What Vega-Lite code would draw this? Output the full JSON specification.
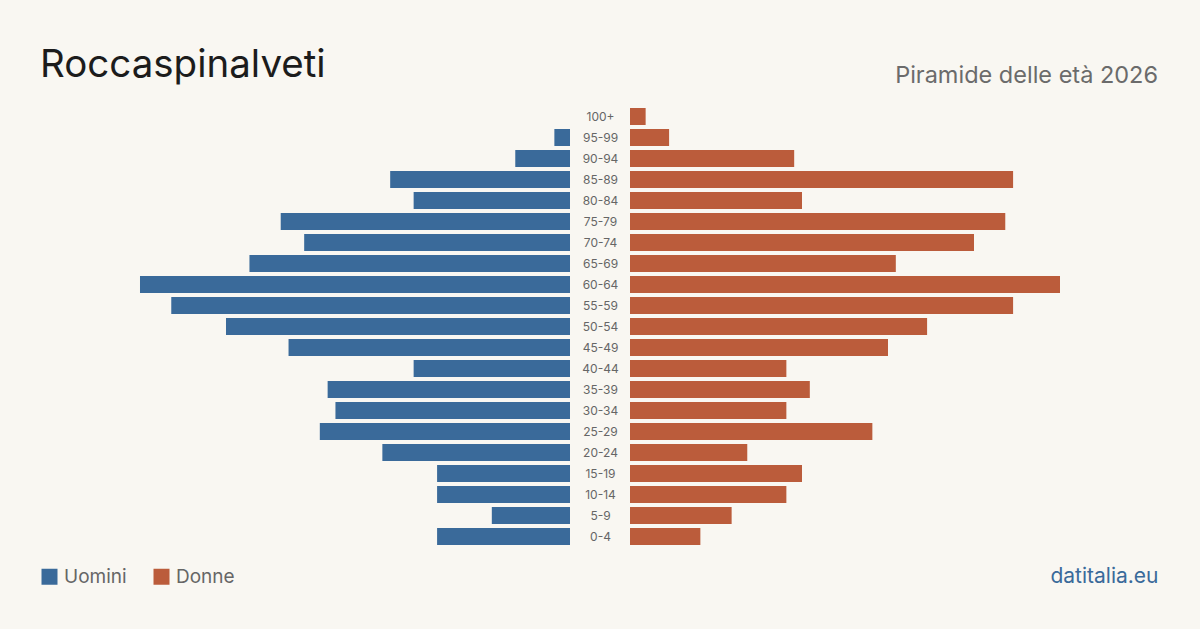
{
  "$schema": "https://vega.github.io/schema/vega-lite/v6.json",
  "autosize": {"type": "pad"},
  "padding": {"left": 40, "top": 45, "right": 42, "bottom": 42},
  "background": "#f9f7f2",
  "config": {
    "view": {"stroke": null},
    "font": "Inter"
  },
  "spacing": 60,
  "bounds": "flush",
  "data": {
    "values": [
      {"eta": "100+", "sesso": "Uomini", "n": 0},
      {"eta": "95-99", "sesso": "Uomini", "n": 2},
      {"eta": "90-94", "sesso": "Uomini", "n": 7},
      {"eta": "85-89", "sesso": "Uomini", "n": 23},
      {"eta": "80-84", "sesso": "Uomini", "n": 20},
      {"eta": "75-79", "sesso": "Uomini", "n": 37},
      {"eta": "70-74", "sesso": "Uomini", "n": 34},
      {"eta": "65-69", "sesso": "Uomini", "n": 41},
      {"eta": "60-64", "sesso": "Uomini", "n": 55},
      {"eta": "55-59", "sesso": "Uomini", "n": 51},
      {"eta": "50-54", "sesso": "Uomini", "n": 44},
      {"eta": "45-49", "sesso": "Uomini", "n": 36},
      {"eta": "40-44", "sesso": "Uomini", "n": 20},
      {"eta": "35-39", "sesso": "Uomini", "n": 31},
      {"eta": "30-34", "sesso": "Uomini", "n": 30},
      {"eta": "25-29", "sesso": "Uomini", "n": 32},
      {"eta": "20-24", "sesso": "Uomini", "n": 24},
      {"eta": "15-19", "sesso": "Uomini", "n": 17},
      {"eta": "10-14", "sesso": "Uomini", "n": 17},
      {"eta": "5-9", "sesso": "Uomini", "n": 10},
      {"eta": "0-4", "sesso": "Uomini", "n": 17},
      {"eta": "100+", "sesso": "Donne", "n": 2},
      {"eta": "95-99", "sesso": "Donne", "n": 5},
      {"eta": "90-94", "sesso": "Donne", "n": 21},
      {"eta": "85-89", "sesso": "Donne", "n": 49},
      {"eta": "80-84", "sesso": "Donne", "n": 22},
      {"eta": "75-79", "sesso": "Donne", "n": 48},
      {"eta": "70-74", "sesso": "Donne", "n": 44},
      {"eta": "65-69", "sesso": "Donne", "n": 34},
      {"eta": "60-64", "sesso": "Donne", "n": 55},
      {"eta": "55-59", "sesso": "Donne", "n": 49},
      {"eta": "50-54", "sesso": "Donne", "n": 38},
      {"eta": "45-49", "sesso": "Donne", "n": 33},
      {"eta": "40-44", "sesso": "Donne", "n": 20},
      {"eta": "35-39", "sesso": "Donne", "n": 23},
      {"eta": "30-34", "sesso": "Donne", "n": 20},
      {"eta": "25-29", "sesso": "Donne", "n": 31},
      {"eta": "20-24", "sesso": "Donne", "n": 15},
      {"eta": "15-19", "sesso": "Donne", "n": 22},
      {"eta": "10-14", "sesso": "Donne", "n": 20},
      {"eta": "5-9", "sesso": "Donne", "n": 13},
      {"eta": "0-4", "sesso": "Donne", "n": 9}
    ]
  },
  "resolve": {"scale": {"color": "independent", "x": "independent"}},
  "hconcat": [
    {
      "width": 530,
      "height": 441,
      "title": {
        "text": "Roccaspinalveti",
        "anchor": "start",
        "orient": "top",
        "baseline": "alphabetic",
        "offset": -9,
        "fontSize": 38.5,
        "fontWeight": "normal",
        "color": "#1c1c1c",
        "font": "Inter"
      },
      "transform": [{"filter": "datum.sesso === 'Uomini'"}],
      "mark": {"type": "bar"},
      "encoding": {
        "y": {
          "field": "eta",
          "type": "nominal",
          "sort": ["100+", "95-99", "90-94", "85-89", "80-84", "75-79", "70-74", "65-69", "60-64", "55-59", "50-54", "45-49", "40-44", "35-39", "30-34", "25-29", "20-24", "15-19", "10-14", "5-9", "0-4"],
          "scale": {"paddingInner": 0.19, "paddingOuter": 0.095},
          "axis": null
        },
        "x": {
          "field": "n",
          "type": "quantitative",
          "scale": {"domain": [0, 67.79], "reverse": true, "nice": false, "zero": true},
          "axis": null
        },
        "color": {
          "field": "sesso",
          "type": "nominal",
          "scale": {"domain": ["Uomini", "Donne"], "range": ["#3a6a9a", "#bb5c3b"]},
          "legend": {
            "title": null,
            "orient": "bottom",
            "direction": "horizontal",
            "offset": 20,
            "symbolType": "square",
            "symbolSize": 256,
            "symbolStrokeWidth": 0,
            "symbolOpacity": 1,
            "labelFontSize": 19,
            "labelColor": "#666666",
            "labelFont": "Inter",
            "labelOffset": 5,
            "columnPadding": 25,
            "padding": 0
          }
        }
      }
    },
    {
      "width": 528,
      "height": 441,
      "title": {
        "text": "Piramide delle età 2026",
        "anchor": "end",
        "orient": "top",
        "baseline": "alphabetic",
        "offset": 0,
        "fontSize": 23.5,
        "fontWeight": "normal",
        "color": "#6b6b6b",
        "font": "Inter"
      },
      "transform": [{"filter": "datum.sesso === 'Donne'"}],
      "mark": {"type": "bar"},
      "encoding": {
        "y": {
          "field": "eta",
          "type": "nominal",
          "sort": ["100+", "95-99", "90-94", "85-89", "80-84", "75-79", "70-74", "65-69", "60-64", "55-59", "50-54", "45-49", "40-44", "35-39", "30-34", "25-29", "20-24", "15-19", "10-14", "5-9", "0-4"],
          "scale": {"paddingInner": 0.19, "paddingOuter": 0.095},
          "axis": {
            "title": null,
            "orient": "left",
            "domain": false,
            "ticks": false,
            "tickSize": 0,
            "labelPadding": 30,
            "labelAlign": "center",
            "labelFontSize": 12,
            "labelColor": "#666666",
            "labelFont": "Inter"
          }
        },
        "x": {
          "field": "n",
          "type": "quantitative",
          "scale": {"domain": [0, 67.535], "nice": false, "zero": true},
          "axis": {
            "title": "datitalia.eu",
            "titleAnchor": "end",
            "titleAlign": "right",
            "titleColor": "#3a6a9a",
            "titleFontSize": 21,
            "titleFontWeight": "normal",
            "titleFont": "Inter",
            "titlePadding": 18,
            "labels": false,
            "ticks": false,
            "domain": false,
            "grid": false
          }
        },
        "color": {
          "field": "sesso",
          "type": "nominal",
          "scale": {"domain": ["Uomini", "Donne"], "range": ["#3a6a9a", "#bb5c3b"]},
          "legend": null
        }
      }
    }
  ]
}
